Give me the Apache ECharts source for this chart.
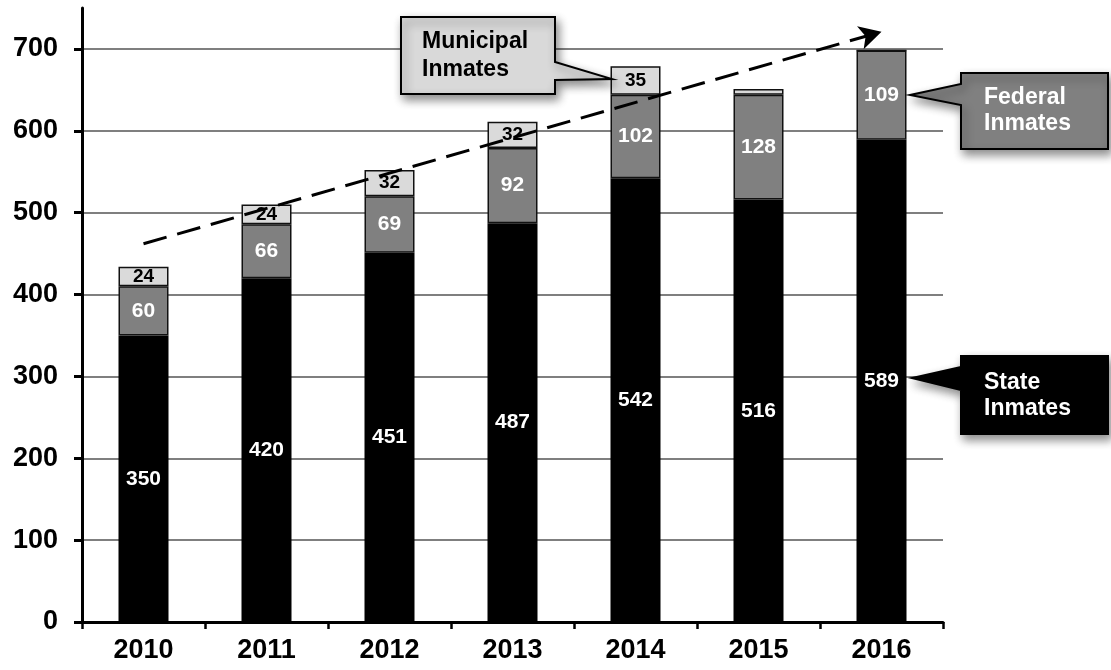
<!DOCTYPE html>
<html>
<head>
<meta charset="utf-8">
<script src="https://cdn.jsdelivr.net/npm/echarts@6/dist/echarts.min.js"></script>
<style>
  html, body { margin: 0; padding: 0; background: #fff; }
  #chart { width: 1111px; height: 670px; }
</style>
</head>
<body>
<div id="chart"></div>
<script>
// Inmate counts by year, split by holding authority
const years = ['2010', '2011', '2012', '2013', '2014', '2015', '2016'];
const stateInmates = [350, 420, 451, 487, 542, 516, 589];
const federalInmates = [60, 66, 69, 92, 102, 128, 109];
const municipalInmates = [24, 24, 32, 32, 35, 7, 0];
const yTicks = [0, 100, 200, 300, 400, 500, 600, 700];
// Trend arrow end points: [category, value]
const trendStart = ['2010', 462];
const trendEnd = ['2016', 721];

const FONT = '"Liberation Sans", Arial, sans-serif';

const chart = echarts.init(document.getElementById('chart'), null, { renderer: 'canvas' });

const labelBase = { show: true, position: 'inside', fontFamily: FONT, fontWeight: 'bold' };
const calloutShadow = { shadowBlur: 10, shadowOffsetX: 3, shadowOffsetY: 5, shadowColor: 'rgba(0,0,0,0.45)' };

const option = {
  animation: false,
  backgroundColor: '#ffffff',
  grid: { left: 82, right: 168, top: 8, bottom: 48, containLabel: false },
  xAxis: {
    type: 'category',
    data: years,
    boundaryGap: true,
    axisLine: { show: true, lineStyle: { color: '#000', width: 3 } },
    axisTick: { show: true, length: 7, lineStyle: { color: '#000', width: 2.5 } },
    axisLabel: { color: '#000', fontFamily: FONT, fontWeight: 'bold', fontSize: 27, margin: 15 },
    splitLine: { show: false }
  },
  yAxis: {
    type: 'value',
    min: 0,
    max: 750,
    axisLine: { show: true, lineStyle: { color: '#000', width: 3 } },
    axisTick: { show: true, length: 8, customValues: yTicks, lineStyle: { color: '#000', width: 3 } },
    axisLabel: { color: '#000', fontFamily: FONT, fontWeight: 'bold', fontSize: 27, margin: 24, customValues: yTicks },
    splitLine: { show: true, lineStyle: { color: '#555', width: 1.5 } }
  },
  series: [
    {
      name: 'State Inmates',
      type: 'bar',
      stack: 'total',
      barWidth: 50,
      data: stateInmates,
      itemStyle: { color: '#000000' },
      label: Object.assign({}, labelBase, { color: '#fff', fontSize: 21 })
    },
    {
      name: 'Federal Inmates',
      type: 'bar',
      stack: 'total',
      barWidth: 50,
      data: federalInmates,
      itemStyle: { color: '#808080', borderColor: '#111', borderWidth: 1.5 },
      label: Object.assign({}, labelBase, { color: '#fff', fontSize: 21 })
    },
    {
      name: 'Municipal Inmates',
      type: 'bar',
      stack: 'total',
      barWidth: 50,
      data: municipalInmates,
      itemStyle: { color: '#dadada', borderColor: '#111', borderWidth: 1.5 },
      label: Object.assign({}, labelBase, {
        color: '#000', fontSize: 19,
        formatter: p => (p.value >= 10 ? String(p.value) : '')
      }),
      markLine: {
        silent: true,
        symbol: ['none', 'arrow'],
        symbolSize: [18, 22],
        label: { show: false },
        emphasis: { disabled: true },
        lineStyle: { color: '#000', width: 3, type: [24, 11] },
        data: [[{ coord: trendStart }, { coord: trendEnd }]]
      }
    }
  ],
  graphic: [
    // Municipal callout
    {
      type: 'polygon', z: 100,
      shape: { points: [[401, 17], [555, 17], [555, 62], [612, 79], [555, 80], [555, 94], [401, 94]] },
      style: Object.assign({ fill: '#d9d9d9', stroke: '#000', lineWidth: 2 }, calloutShadow)
    },
    {
      type: 'text', z: 101, x: 422, y: 56,
      style: { text: 'Municipal\nInmates', fill: '#000', font: 'bold 23px ' + FONT,
        verticalAlign: 'middle', lineHeight: 28 }
    },
    // Federal callout
    {
      type: 'polygon', z: 100,
      shape: { points: [[961, 73], [1108, 73], [1108, 149], [961, 149], [961, 105], [910, 95], [961, 84]] },
      style: Object.assign({ fill: '#808080', stroke: '#000', lineWidth: 2 }, calloutShadow)
    },
    {
      type: 'text', z: 101, x: 984, y: 111,
      style: { text: 'Federal\nInmates', fill: '#fff', font: 'bold 23px ' + FONT,
        verticalAlign: 'middle', lineHeight: 26 }
    },
    // State callout
    {
      type: 'polygon', z: 100,
      shape: { points: [[961, 356], [1108, 356], [1108, 434], [961, 434], [961, 390], [912, 378], [961, 367]] },
      style: Object.assign({ fill: '#000', stroke: '#000', lineWidth: 2 }, calloutShadow)
    },
    {
      type: 'text', z: 101, x: 984, y: 396,
      style: { text: 'State\nInmates', fill: '#fff', font: 'bold 23px ' + FONT,
        verticalAlign: 'middle', lineHeight: 26 }
    }
  ]
};

chart.setOption(option);
</script>
</body>
</html>
